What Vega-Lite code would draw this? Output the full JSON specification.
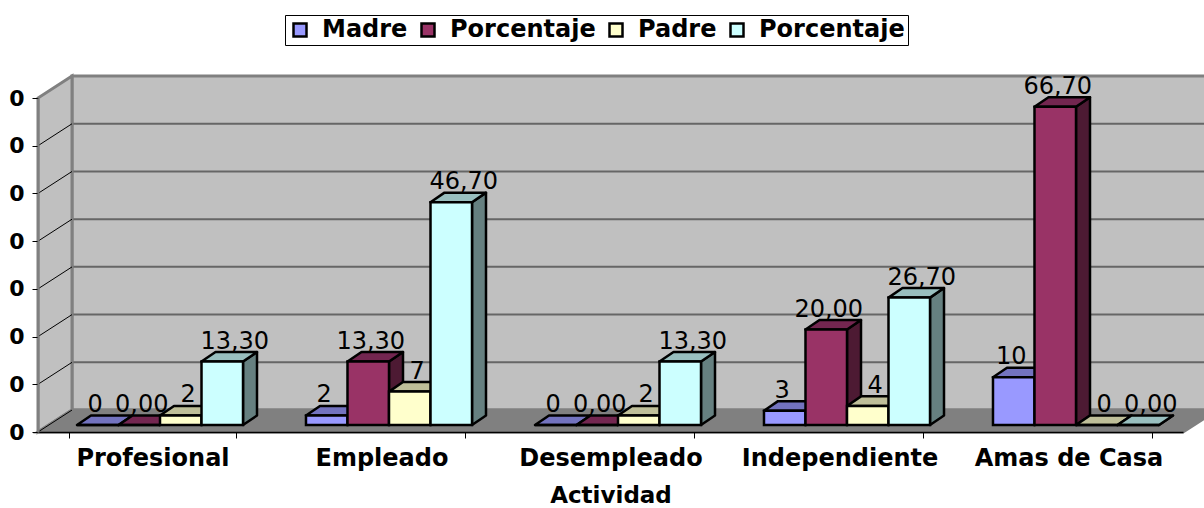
{
"$schema":"https://vega.github.io/schema/vega-lite/v6.json",
"width":1145,"height":334,
"autosize":{"type":"none"},
"padding":{"left":38,"top":98,"right":21,"bottom":76},
"background":"#ffffff",
"config":{"view":{"stroke":null}},
"datasets":{
"filas":[
{"actividad":"Profesional","serie":"Madre","valor":0,"etiqueta":"0"},
{"actividad":"Profesional","serie":"Porcentaje","valor":0,"etiqueta":"0,00"},
{"actividad":"Profesional","serie":"Padre","valor":2,"etiqueta":"2"},
{"actividad":"Profesional","serie":"Porcentaje ","valor":13.3,"etiqueta":"13,30"},
{"actividad":"Empleado","serie":"Madre","valor":2,"etiqueta":"2"},
{"actividad":"Empleado","serie":"Porcentaje","valor":13.3,"etiqueta":"13,30"},
{"actividad":"Empleado","serie":"Padre","valor":7,"etiqueta":"7"},
{"actividad":"Empleado","serie":"Porcentaje ","valor":46.7,"etiqueta":"46,70"},
{"actividad":"Desempleado","serie":"Madre","valor":0,"etiqueta":"0"},
{"actividad":"Desempleado","serie":"Porcentaje","valor":0,"etiqueta":"0,00"},
{"actividad":"Desempleado","serie":"Padre","valor":2,"etiqueta":"2"},
{"actividad":"Desempleado","serie":"Porcentaje ","valor":13.3,"etiqueta":"13,30"},
{"actividad":"Independiente","serie":"Madre","valor":3,"etiqueta":"3"},
{"actividad":"Independiente","serie":"Porcentaje","valor":20,"etiqueta":"20,00"},
{"actividad":"Independiente","serie":"Padre","valor":4,"etiqueta":"4"},
{"actividad":"Independiente","serie":"Porcentaje ","valor":26.7,"etiqueta":"26,70"},
{"actividad":"Amas de Casa","serie":"Madre","valor":10,"etiqueta":"10"},
{"actividad":"Amas de Casa","serie":"Porcentaje","valor":66.7,"etiqueta":"66,70"},
{"actividad":"Amas de Casa","serie":"Padre","valor":0,"etiqueta":"0"},
{"actividad":"Amas de Casa","serie":"Porcentaje ","valor":0,"etiqueta":"0,00"}
],
"marcas":[{"t":0},{"t":10},{"t":20},{"t":30},{"t":40},{"t":50},{"t":60},{"t":70}]
},
"resolve":{"scale":{"x":"independent","xOffset":"independent"},"axis":{"x":"independent","y":"independent"}},
"layer":[
{
"data":{"values":[{"a":0}]},
"mark":{"type":"rect","fill":"#c0c0c0","stroke":"#808080","strokeWidth":3,"yOffset":-22,"y2Offset":-22},
"encoding":{
"x":{"datum":34,"type":"quantitative","scale":{"domain":[0,1145],"nice":false,"zero":false},"axis":null},
"x2":{"datum":1200},
"y":{"datum":0,"type":"quantitative","scale":{"domain":[0,70],"nice":false},"axis":null},
"y2":{"datum":70}
}
},
{
"data":{"name":"marcas"},
"transform":[{"filter":"datum.t>0 && datum.t<70"}],
"mark":{"type":"rule","stroke":"#666666","strokeWidth":2,"yOffset":-22,"y2Offset":-22},
"encoding":{
"x":{"datum":34,"type":"quantitative","scale":{"domain":[0,1145],"nice":false,"zero":false},"axis":null},
"x2":{"datum":1200},
"y":{"field":"t","type":"quantitative","scale":{"domain":[0,70],"nice":false},"axis":null}
}
},
{
"data":{"values":[{"c":0,"p":"muro"},{"c":1,"p":"muro"},{"c":2,"p":"muro"},{"c":3,"p":"muro"},{"c":0,"p":"piso"},{"c":1,"p":"piso"},{"c":2,"p":"piso"},{"c":3,"p":"piso"}]},
"transform":[
{"calculate":"datum.p=='muro' ? [0,34,34,0][datum.c] : [0,1145,1179,34][datum.c]","as":"u"},
{"calculate":"datum.p=='muro' ? [0,4.6,74.6,70][datum.c] : [0,0,4.6,4.6][datum.c]","as":"w"},
{"calculate":"datum.p=='muro' ? '#c0c0c0' : '#808080'","as":"relleno"}
],
"mark":{"type":"line","interpolate":"linear-closed","stroke":"#808080","strokeWidth":3},
"encoding":{
"x":{"field":"u","type":"quantitative","scale":{"domain":[0,1145],"nice":false,"zero":false},"axis":null},
"y":{"field":"w","type":"quantitative","scale":{"domain":[0,70],"nice":false},"axis":null},
"fill":{"field":"relleno","type":"nominal","scale":null,"legend":null},
"detail":{"field":"p"},
"order":{"field":"c"}
}
},
{
"data":{"name":"marcas"},
"transform":[{"filter":"datum.t<70"},{"calculate":"datum.t+4.6","as":"t2"}],
"mark":{"type":"rule","stroke":"#000000","strokeWidth":1},
"encoding":{
"x":{"datum":0,"type":"quantitative","scale":{"domain":[0,1145],"nice":false,"zero":false},"axis":null},
"x2":{"datum":34},
"y":{"field":"t","type":"quantitative","scale":{"domain":[0,70],"nice":false},"axis":null},
"y2":{"field":"t2"}
}
},
{
"data":{"name":"filas"},
"transform":[
{"calculate":"indexof(['Profesional','Empleado','Desempleado','Independiente','Amas de Casa'],datum.actividad)","as":"ci"},
{"calculate":"indexof(['Madre','Porcentaje','Padre','Porcentaje '],datum.serie)","as":"si"},
{"calculate":"39+229*datum.ci+41.5*datum.si","as":"x0"},
{"calculate":"datum.x0+41.5","as":"x1"},
{"calculate":"datum.valor+1.467","as":"yv"},
{"calculate":"['lado','tope']","as":"cara"},
{"flatten":["cara"]},
{"calculate":"[0,1,2,3]","as":"c"},
{"flatten":["c"]},
{"calculate":"datum.cara=='lado' ? [datum.x1,datum.x1+14,datum.x1+14,datum.x1][datum.c] : [datum.x0,datum.x1,datum.x1+14,datum.x0+14][datum.c]","as":"u"},
{"calculate":"datum.cara=='lado' ? [1.467,3.467,datum.yv+2,datum.yv][datum.c] : [datum.yv,datum.yv,datum.yv+2,datum.yv+2][datum.c]","as":"w"},
{"calculate":"datum.cara=='lado' ? ['#4d4d80','#4d1a33','#80806b','#668080'][datum.si] : ['#7373bf','#732650','#bfbf99','#99bfbf'][datum.si]","as":"relleno"},
{"calculate":"datum.actividad+datum.si+datum.cara","as":"clave"}
],
"mark":{"type":"line","interpolate":"linear-closed","stroke":"#000000","strokeWidth":2.5,"strokeJoin":"round"},
"encoding":{
"x":{"field":"u","type":"quantitative","scale":{"domain":[0,1145],"nice":false,"zero":false},"axis":null},
"y":{"field":"w","type":"quantitative","scale":{"domain":[0,70],"nice":false},"axis":null},
"fill":{"field":"relleno","type":"nominal","scale":null,"legend":null},
"detail":{"field":"clave"},
"order":{"field":"c"}
}
},
{
"data":{"name":"filas"},
"mark":{"type":"bar","stroke":"#000000","strokeWidth":2.5,"yOffset":-7,"y2Offset":-7},
"encoding":{
"x":{"field":"actividad","type":"nominal","sort":null,"scale":{"domain":["Profesional","Empleado","Desempleado","Independiente","Amas de Casa"],"paddingInner":0.275,"paddingOuter":0.1375,"range":[7.5,1152.5]},"axis":null},
"xOffset":{"field":"serie","type":"nominal","sort":null,"scale":{"domain":["Madre","Porcentaje","Padre","Porcentaje "]}},
"y":{"field":"valor","type":"quantitative","scale":{"domain":[0,70],"nice":false},
"axis":{"title":null,"values":[0,10,20,30,40,50,60,70],"labelExpr":"'0'","labelFont":"DejaVu Sans","labelFontSize":22,"labelFontWeight":"bold","labelColor":"#000000","labelPadding":8,"tickColor":"#000000","tickSize":6,"domainColor":"#808080","domainWidth":2,"grid":false,"zindex":1}},
"y2":{"datum":0},
"color":{"field":"serie","type":"nominal","sort":null,"scale":{"domain":["Madre","Porcentaje","Padre","Porcentaje "],"range":["#9999ff","#993366","#ffffcc","#ccffff"]},
"legend":{"title":null,"orient":"none","legendX":247,"legendY":-83,"direction":"horizontal","columns":4,"fillColor":"#ffffff","strokeColor":"#000000","padding":3,"labelFont":"DejaVu Sans","labelFontSize":24,"labelFontWeight":"bold","labelColor":"#000000","symbolType":"square","symbolSize":169,"symbolStrokeColor":"#000000","symbolStrokeWidth":2.5,"columnPadding":8,"labelOffset":10,"gridAlign":"none"}}
}
},
{
"data":{"name":"filas"},
"mark":{"type":"text","font":"DejaVu Sans","fontSize":24,"color":"#000000","align":"center","baseline":"alphabetic","dx":2.5,"dy":-20},
"encoding":{
"x":{"field":"actividad","type":"nominal","sort":null,"scale":{"domain":["Profesional","Empleado","Desempleado","Independiente","Amas de Casa"],"paddingInner":0.275,"paddingOuter":0.1375},
"axis":{"title":"Actividad","titleFont":"DejaVu Sans","titleFontSize":23,"titleFontWeight":"bold","titleColor":"#000000","titlePadding":14,"labelFont":"DejaVu Sans","labelFontSize":24,"labelFontWeight":"bold","labelColor":"#000000","labelAngle":0,"labelPadding":8,"labelLimit":300,"tickBand":"extent","tickColor":"#000000","tickSize":6,"domainColor":"#000000","domainWidth":1.5,"zindex":1}},
"xOffset":{"field":"serie","type":"nominal","sort":null,"scale":{"domain":["Madre","Porcentaje","Padre","Porcentaje "],"range":[0,186]}},
"y":{"field":"valor","type":"quantitative","scale":{"domain":[0,70],"nice":false},"axis":null},
"text":{"field":"etiqueta","type":"nominal"}
}
}
]
}
